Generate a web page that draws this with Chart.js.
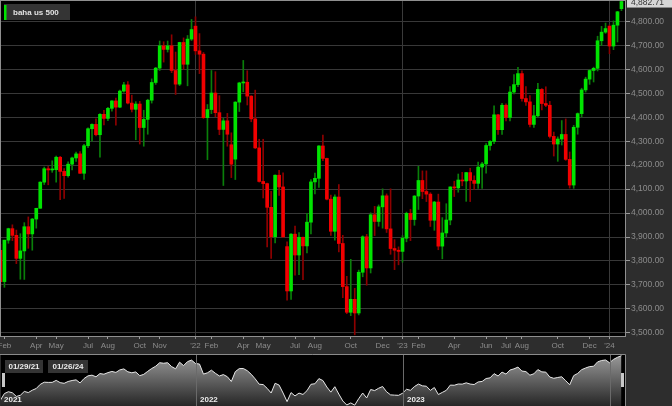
<!DOCTYPE html>
<html>
<head>
<meta charset="utf-8">
<script src="https://cdn.jsdelivr.net/npm/chart.js@4.4.0/dist/chart.umd.min.js"></script>
<style>
  html, body { margin: 0; padding: 0; background: #2d2d2d; }
  #wrap { position: relative; width: 672px; height: 406px; overflow: hidden; }
  #main { position: absolute; left: 0; top: 0; }
  #nav { position: absolute; left: 0; top: 354px; }
</style>
</head>
<body>
<div id="wrap">
  <canvas id="main" width="672" height="354"></canvas>
  <canvas id="nav" width="672" height="52"></canvas>
</div>
<script>
// Weekly candles, week of 01/25/21 (index 0) to week of 01/22/24 (index 156)
const opens = [3844,3714,3887,3935,3907,3811,3842,3943,3913,3975,4020,4129,4185,4180,4181,4233,4174,4156,4204,4230,
  4247,4166,4281,4352,4370,4327,4412,4395,4437,4468,4442,4509,4535,4459,4433,4455,4357,4391,4471,4545,
  4605,4698,4683,4698,4595,4538,4712,4621,4726,4780,4677,4663,4398,4432,4501,4419,4349,4385,4285,4225,
  4463,4543,4546,4488,4393,4272,4132,4123,4024,3901,4158,4109,3860,3675,3912,3825,3899,3863,3962,4130,
  4145,4280,4228,4058,3924,4067,3873,3693,3586,3640,3583,3753,3901,3771,3993,3965,4026,4072,3934,3852,
  3845,3840,3895,3999,3973,4071,4136,4090,4079,3970,4046,3862,3917,3971,4109,4105,4138,4134,4169,4136,
  4124,4192,4205,4282,4299,4410,4348,4450,4399,4505,4536,4582,4478,4464,4370,4406,4516,4457,4450,4320,
  4288,4309,4328,4224,4117,4358,4415,4514,4559,4595,4604,4719,4755,4780,4697,4784,4853];
const highs = [3870,3887,3937,3951,3929,3914,3960,3984,3978,4020,4131,4192,4195,4218,4238,4237,4186,4214,4234,4255,
  4257,4287,4356,4372,4393,4415,4429,4441,4469,4480,4513,4546,4549,4492,4465,4466,4429,4475,4560,4608,
  4718,4715,4718,4744,4672,4713,4731,4741,4808,4819,4749,4670,4453,4595,4590,4490,4395,4416,4335,4465,
  4546,4637,4594,4490,4513,4308,4308,4125,4091,4160,4178,4168,3880,3914,3946,3919,3900,3999,4140,4167,
  4282,4325,4230,4075,4076,4119,3907,3736,3807,3686,3762,3905,3911,4001,4028,4034,4101,4080,4101,3889,
  3859,3906,4004,4016,4073,4195,4176,4176,4085,4049,4079,3981,4039,4110,4133,4163,4170,4170,4187,4155,
  4213,4212,4290,4302,4448,4412,4458,4456,4528,4578,4608,4594,4528,4490,4450,4541,4520,4527,4466,4338,
  4318,4386,4393,4255,4366,4418,4521,4567,4598,4609,4738,4779,4793,4785,4802,4842,4894];
const lows = [3694,3690,3874,3885,3789,3724,3723,3853,3845,3937,4020,4119,4118,4170,4129,4056,4061,4150,4180,4216,
  4165,4140,4273,4300,4322,4233,4368,4386,4425,4367,4440,4505,4456,4422,4306,4288,4279,4329,4459,4537,
  4595,4630,4672,4586,4495,4532,4600,4531,4720,4662,4582,4395,4223,4415,4402,4327,4115,4279,4148,4140,
  4424,4506,4451,4381,4269,4129,4063,3859,3811,3875,4074,3898,3637,3640,3741,3743,3722,3834,3913,4080,
  4107,4219,4055,3907,3887,3838,3647,3580,3572,3492,3575,3734,3699,3750,3906,3945,3937,3919,3828,3764,
  3784,3795,3880,3885,3949,4015,4060,4048,3944,3928,3847,3809,3900,3951,4069,4087,4114,4049,4048,4099,
  4103,4103,4166,4262,4290,4328,4328,4385,4385,4497,4528,4467,4449,4360,4357,4400,4430,4444,4313,4238,
  4216,4284,4220,4104,4103,4329,4401,4505,4537,4547,4593,4699,4750,4665,4682,4714,4845];
const closes = [3714,3887,3935,3907,3811,3842,3943,3913,3975,4020,4129,4185,4180,4181,4233,4174,4156,4204,4230,4247,
  4166,4281,4352,4370,4327,4412,4395,4437,4468,4442,4509,4535,4459,4433,4455,4357,4391,4471,4545,4605,
  4698,4683,4698,4595,4538,4712,4621,4726,4766,4677,4663,4398,4432,4501,4419,4349,4385,4329,4204,4463,
  4543,4546,4488,4393,4272,4132,4123,4024,3901,4158,4109,3901,3675,3912,3825,3899,3863,3962,4130,4145,
  4280,4228,4058,3924,4067,3873,3693,3586,3640,3583,3753,3901,3771,3993,3965,4026,4072,3934,3852,3845,
  3840,3895,3999,3973,4071,4136,4090,4079,3970,4046,3862,3917,3971,4109,4105,4138,4134,4169,4136,4124,
  4192,4205,4282,4299,4410,4348,4450,4399,4505,4536,4582,4478,4464,4370,4406,4516,4457,4450,4320,4288,
  4309,4328,4224,4117,4358,4415,4514,4559,4595,4604,4719,4755,4770,4697,4784,4840,4882.71];

// y-axis ticks
const priceTicks = [3500,3600,3700,3800,3900,4000,4100,4200,4300,4400,4500,4600,4700,4800];

// x-axis ticks: week index holding the first trading day of the month
const tickWeeks = [1, 9, 14, 22, 27, 35, 40, 49, 53, 61, 66, 74, 79, 88, 96, 101, 105, 114, 122, 127, 131, 140, 148, 153];
const tickLabels = ['Feb','Apr','May','Jul','Aug','Oct','Nov',"'22",'Feb','Apr','May','Jul','Aug','Oct','Dec',"'23",
  'Feb','Apr','Jun','Jul','Aug','Oct','Dec',"'24"];

// navigator
const navYearLabels = ['2021', '2022', '2023'];
const navYearWeeks = [49, 101, 153];
const rangeLabels = ['01/29/21', '01/26/24'];
const seriesName = 'baha us 500';

const UP = '#00e400', DOWN = '#f20000', UP_WICK = '#0a7f0a', DOWN_WICK = '#8e0000';
const FONT = "'Liberation Sans', Arial, sans-serif";
const X_MIN = 0.14, X_MAX = 156.89;

Chart.defaults.font.family = FONT;
Chart.defaults.animation = false;

const weeks = closes.map((c, i) => i);
const isUp = closes.map((c, i) => c >= opens[i]);

const fmt = v => v.toLocaleString('en-US', { minimumFractionDigits: 2, maximumFractionDigits: 2 });

const mainDecor = {
  id: 'mainDecor',
  beforeDraw(chart) {
    const { ctx, chartArea: a } = chart;
    ctx.save();
    ctx.fillStyle = '#2d2d2d';
    ctx.fillRect(0, 0, chart.width, chart.height);
    ctx.fillStyle = '#000';
    ctx.fillRect(a.left, a.top, a.right - a.left, a.bottom - a.top);
    ctx.restore();
  },
  afterDraw(chart) {
    const { ctx, chartArea: a } = chart;
    ctx.save();
    ctx.strokeStyle = '#8f8f8f';
    ctx.lineWidth = 1;
    ctx.strokeRect(a.left - 0.5, a.top - 0.5, a.right - a.left + 1, a.bottom - a.top + 1);

    // legend box
    ctx.fillStyle = '#343434';
    ctx.fillRect(4, 4, 66, 16);
    ctx.fillStyle = UP;
    ctx.fillRect(4, 5, 2.5, 15);
    ctx.fillStyle = '#e2e2e2';
    ctx.font = 'bold 8px ' + FONT;
    ctx.textBaseline = 'middle';
    ctx.fillText(seriesName, 13, 12.5);

    // last price tag
    const last = closes[closes.length - 1];
    const y = chart.scales.y.getPixelForValue(last);
    ctx.fillStyle = '#d6d6d6';
    ctx.fillRect(a.right + 2, y - 6, chart.width - a.right - 2, 12);
    ctx.fillStyle = '#333';
    ctx.font = '8.5px ' + FONT;
    ctx.fillText(fmt(last), a.right + 6, y + 1);
    ctx.restore();
  }
};

new Chart(document.getElementById('main'), {
  type: 'bar',
  data: {
    datasets: [{
      label: 'body',
      data: weeks.map(i => ({ x: i, y: [opens[i], closes[i]] })),
      backgroundColor: isUp.map(u => u ? UP : DOWN),
      barThickness: 3,
      minBarLength: 1,
      grouped: false,
      borderWidth: 0,
      clip: 0
    }, {
      label: 'wick',
      data: weeks.map(i => ({ x: i, y: [lows[i], highs[i]] })),
      backgroundColor: isUp.map(u => u ? UP_WICK : DOWN_WICK),
      barThickness: 1,
      grouped: false,
      borderWidth: 0,
      clip: 0
    }]
  },
  options: {
    responsive: false,
    maintainAspectRatio: false,
    layout: { padding: { left: 1, top: 1, right: 0, bottom: 0 } },
    plugins: { legend: { display: false }, tooltip: { enabled: false } },
    scales: {
      x: {
        type: 'linear',
        min: X_MIN,
        max: X_MAX,
        offset: false,
        afterBuildTicks: s => { s.ticks = tickWeeks.map(v => ({ value: v })); },
        afterFit: s => { s.height = 18; s.paddingLeft = 0; s.paddingRight = 0; },
        grid: {
          offset: false,
          color: c => (c.tick && tickLabels[c.index] && tickLabels[c.index][0] === "'") ? '#3a3a3a' : 'rgba(0,0,0,0)',
          tickColor: '#9a9a9a',
          tickLength: 3
        },
        border: { color: '#9a9a9a' },
        ticks: {
          autoSkip: false,
          maxRotation: 0,
          padding: 2,
          color: '#8c8c8c',
          font: { size: 8 },
          callback: (v, i) => tickLabels[i]
        }
      },
      y: {
        position: 'right',
        min: 3487,
        max: 4885,
        afterBuildTicks: s => { s.ticks = priceTicks.map(v => ({ value: v })); },
        afterFit: s => { s.width = 47; s.paddingTop = 0; s.paddingBottom = 0; },
        grid: { color: '#383838', tickColor: '#9a9a9a', tickLength: 5 },
        border: { color: '#9a9a9a' },
        ticks: {
          autoSkip: false,
          padding: 1,
          color: '#8c8c8c',
          font: { size: 8.5 },
          callback: v => fmt(v)
        }
      }
    }
  },
  plugins: [mainDecor]
});

const navDecor = {
  id: 'navDecor',
  beforeDraw(chart) {
    const { ctx, chartArea: a } = chart;
    ctx.save();
    ctx.fillStyle = '#2d2d2d';
    ctx.fillRect(0, 0, chart.width, chart.height);
    ctx.fillStyle = '#000';
    ctx.fillRect(a.left, a.top, a.right - a.left, a.bottom - a.top);
    ctx.restore();
  },
  afterDraw(chart) {
    const { ctx, chartArea: a } = chart;
    const xs = chart.scales.x;
    ctx.save();
    ctx.strokeStyle = '#8a8a8a';
    ctx.lineWidth = 1;
    ctx.beginPath();
    ctx.moveTo(0, a.top - 0.5); ctx.lineTo(a.right + 0.5, a.top - 0.5);
    ctx.moveTo(a.right + 0.5, a.top - 0.5); ctx.lineTo(a.right + 0.5, chart.height);
    ctx.stroke();

    ctx.strokeStyle = '#6a6a6a';
    ctx.font = 'bold 8px ' + FONT;
    ctx.textBaseline = 'middle';
    navYearWeeks.forEach(w => {
      const x = Math.round(xs.getPixelForValue(w)) + 0.5;
      ctx.beginPath(); ctx.moveTo(x, a.top); ctx.lineTo(x, a.bottom); ctx.stroke();
    });
    ctx.fillStyle = '#ececec';
    navYearLabels.forEach((t, k) => {
      const x = k === 0 ? 4 : Math.round(xs.getPixelForValue(navYearWeeks[k - 1])) + 4;
      ctx.fillText(t, x, 45.5);
    });

    // range boxes
    const boxes = [[5, 38], [48, 40]];
    rangeLabels.forEach((t, k) => {
      ctx.fillStyle = '#343434';
      ctx.fillRect(boxes[k][0], 6, boxes[k][1], 13);
      ctx.fillStyle = '#ececec';
      ctx.textAlign = 'center';
      ctx.fillText(t, boxes[k][0] + boxes[k][1] / 2, 12.5);
    });

    // handles
    ctx.fillStyle = '#c8c8c8';
    ctx.fillRect(a.left + 1, 19, 3, 14);
    ctx.fillRect(a.right - 4, 19, 3, 14);
    ctx.restore();
  }
};

new Chart(document.getElementById('nav'), {
  type: 'line',
  data: {
    datasets: [{
      data: weeks.map(i => ({ x: i, y: closes[i] })),
      borderColor: '#e6e6e6',
      borderWidth: 1,
      pointRadius: 0,
      tension: 0,
      fill: 'start',
      backgroundColor: c => {
        const a = c.chart.chartArea;
        if (!a) return 'rgba(120,120,120,0.8)';
        const g = c.chart.ctx.createLinearGradient(0, a.top, 0, a.bottom);
        g.addColorStop(0, '#9a9a9a');
        g.addColorStop(1, '#262626');
        return g;
      }
    }]
  },
  options: {
    responsive: false,
    maintainAspectRatio: false,
    layout: { padding: { left: 1, top: 1, right: 47, bottom: 0 } },
    plugins: { legend: { display: false }, tooltip: { enabled: false } },
    scales: {
      x: { type: 'linear', min: X_MIN, max: X_MAX, display: false },
      y: { min: 3560, max: 4900, display: false }
    }
  },
  plugins: [navDecor]
});
</script>
</body>
</html>
